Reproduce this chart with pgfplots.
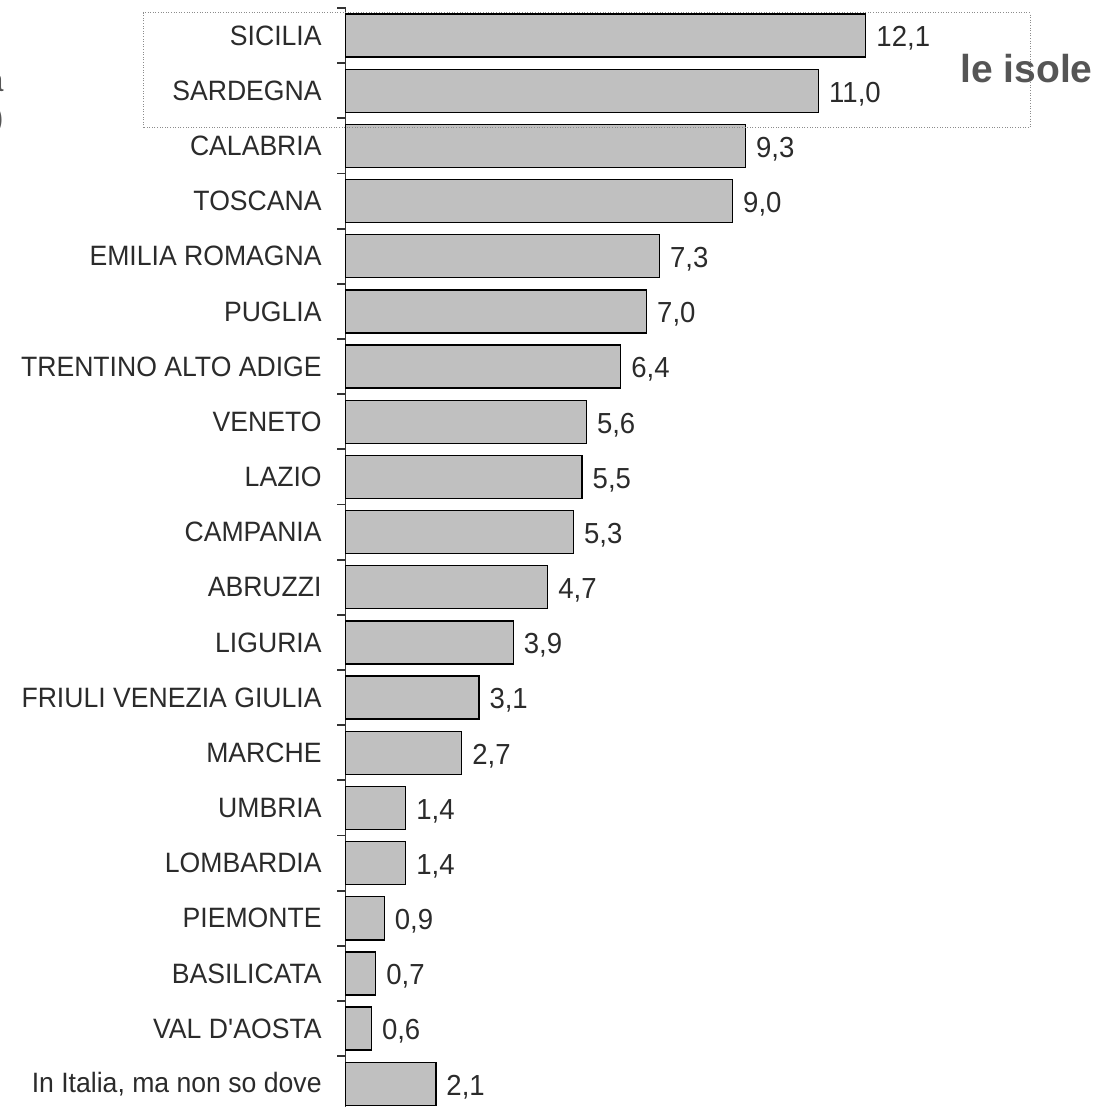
\documentclass[border=0pt]{standalone}
\usepackage{fontspec}
\setmainfont{Liberation Sans}[FakeStretch=0.95]
\newfontfamily\plainsans{Liberation Sans}
\usepackage{pgfplots}
\pgfplotsset{compat=1.18}
\definecolor{barfill}{HTML}{C0C0C0}
\definecolor{txt}{HTML}{2B2B2B}
\definecolor{isole}{HTML}{555555}
\definecolor{axisgray}{HTML}{333333}
\definecolor{boxgray}{HTML}{8C8C8C}
\begin{document}
\begin{tikzpicture}
\useasboundingbox (0pt,0pt) rectangle (550.5pt,553.5pt);
\begin{axis}[
  at={(172.75pt,-2.2pt)}, anchor=south west,
  scale only axis, width=377.75pt, height=551.7pt,
  xbar, bar width=0.78, bar shift=0pt,
  xmin=0, xmax=17.57, ymin=-0.5, ymax=19.5,
  enlargelimits=false,
  axis x line=none, axis y line*=left,
  ytick={0,...,19},
  yticklabels={{In Italia, ma non so dove},{VAL D\textquotesingle AOSTA},BASILICATA,PIEMONTE,LOMBARDIA,UMBRIA,MARCHE,{FRIULI VENEZIA GIULIA},LIGURIA,ABRUZZI,CAMPANIA,LAZIO,VENETO,{TRENTINO ALTO ADIGE},PUGLIA,{EMILIA ROMAGNA},TOSCANA,CALABRIA,SARDEGNA,SICILIA},
  major tick length=0pt,
  minor ytick={-0.5,0.5,...,19.5},
  minor tick length=4pt,
  tick align=outside,
  y axis line style={draw=axisgray, line width=0.9pt},
  every tick/.style={draw=axisgray, line width=0.9pt},
  yticklabel style={font=\fontsize{14}{16}\selectfont, text=txt, anchor=east, inner xsep=0pt, xshift=-11.75pt},
  /pgf/number format/assume math mode=true,
  point meta=x,
  nodes near coords={\pgfmathprintnumber[fixed,fixed zerofill,precision=1,use comma]{\pgfplotspointmeta}},
  nodes near coords style={font=\fontsize{14.5}{16}\selectfont, text=txt, anchor=west, inner xsep=0pt, xshift=5pt, yshift=-1.5pt},
  clip=false,
]
\addplot[fill=barfill, draw=black, line width=0.7pt] coordinates {
  (2.1,0) (0.6,1) (0.7,2) (0.9,3) (1.4,4) (1.4,5) (2.7,6) (3.1,7) (3.9,8) (4.7,9)
  (5.3,10) (5.5,11) (5.6,12) (6.4,13) (7.0,14) (7.3,15) (9.0,16) (9.3,17) (11.0,18) (12.1,19)
};
\end{axis}
\draw[boxgray, line width=0.5pt, dash pattern=on 0.5pt off 0.8pt] (71.5pt,489.5pt) rectangle (515pt,547pt);
\node[font=\plainsans\bfseries\fontsize{19.5}{22}\selectfont, text=isole] at (513.25pt,519pt) {le isole};
\node[font=\fontsize{16}{18}\selectfont, text=isole, anchor=base east, inner sep=0pt] at (2pt,507.5pt) {a};
\node[font=\fontsize{16}{18}\selectfont, text=isole, anchor=east, inner sep=0pt] at (2pt,493.5pt) {)};
\end{tikzpicture}
\end{document}
